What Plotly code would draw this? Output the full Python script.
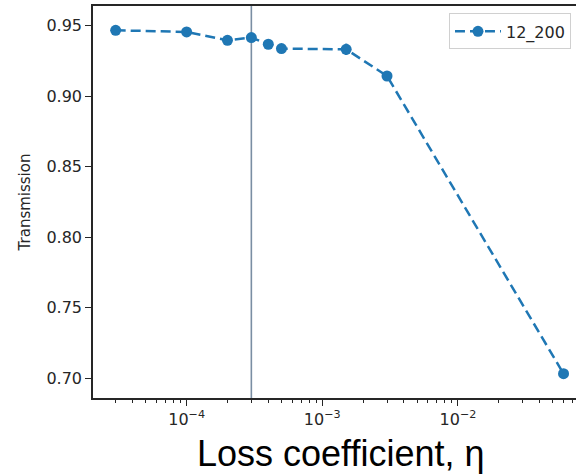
import plotly.graph_objects as go

# Data
loss_coeff = [3e-5, 1e-4, 2e-4, 3e-4, 4e-4, 5e-4, 1.5e-3, 3e-3, 6e-2]
transmission = [0.9467, 0.9455, 0.9396, 0.9415, 0.9368, 0.9337, 0.9332, 0.9143, 0.7033]
transmission_err = [0.001, 0.002, 0.001, 0.002, 0.001, 0.001, 0.004, 0.002, 0.001]
series_name = "12_200"
marker_eta = 3e-4

x_tick_vals = [1e-4, 1e-3, 1e-2]
x_tick_text = ["10<sup>−4</sup>", "10<sup>−3</sup>", "10<sup>−2</sup>"]
y_tick_vals = [0.70, 0.75, 0.80, 0.85, 0.90, 0.95]

y_range = [0.6861, 0.9639]
x_range_log = [-4.69, -1.13]

blue = "#1f77b4"
axis_col = "#262626"

fig = go.Figure()

# vertical reference line at eta = 3e-4
fig.add_trace(go.Scatter(
    x=[marker_eta, marker_eta], y=y_range, mode="lines",
    line=dict(color="#7a8ea3", width=1.6), showlegend=False, hoverinfo="skip",
))

fig.add_trace(go.Scatter(
    x=loss_coeff, y=transmission, name=series_name,
    mode="lines+markers",
    line=dict(color=blue, width=2.5, dash="10px,5px"),
    marker=dict(color=blue, size=11),
    error_y=dict(type="data", array=transmission_err, color=blue, thickness=2.5, width=0),
    cliponaxis=False,
))

minor_vals = [m * 10 ** e for e in range(-5, -1) for m in range(2, 10)]

fig.update_layout(
    width=576, height=476,
    margin=dict(l=93, r=0, t=6, b=78),
    plot_bgcolor="white", paper_bgcolor="white",
    font=dict(family="DejaVu Sans", size=16, color=axis_col),
    showlegend=True,
    legend=dict(
        x=0.737, y=0.981, xanchor="left", yanchor="top",
        bgcolor="white", bordercolor="#d0d0d0", borderwidth=1,
        itemwidth=46,
        font=dict(family="DejaVu Sans", size=16, color=axis_col),
    ),
    xaxis=dict(
        type="log", range=x_range_log,
        showline=True, linecolor=axis_col, linewidth=1.5, mirror=True,
        showgrid=False, zeroline=False,
        ticks="outside", ticklen=6, tickwidth=1.2, tickcolor=axis_col,
        tickvals=x_tick_vals, ticktext=x_tick_text,
        tickfont=dict(family="DejaVu Sans", size=16, color=axis_col),
        minor=dict(tickvals=minor_vals, ticks="outside", ticklen=3.5, tickwidth=1, tickcolor=axis_col),
    ),
    yaxis=dict(
        range=y_range,
        showline=True, linecolor=axis_col, linewidth=1.5, mirror=False,
        showgrid=False, zeroline=False,
        ticks="outside", ticklen=6, tickwidth=1.2, tickcolor=axis_col,
        tickvals=y_tick_vals, tickformat=".2f",
        tickfont=dict(family="DejaVu Sans", size=16, color=axis_col),
        title=dict(text="Transmission", font=dict(family="DejaVu Sans", size=15, color=axis_col), standoff=12),
    ),
)

fig.add_annotation(
    text="Loss coefficient, η", xref="paper", yref="paper",
    x=0.5135, y=-0.085, xanchor="center", yanchor="top", showarrow=False,
    font=dict(family="Liberation Sans", size=36, color="black"),
)

fig.write_html("out.html")
